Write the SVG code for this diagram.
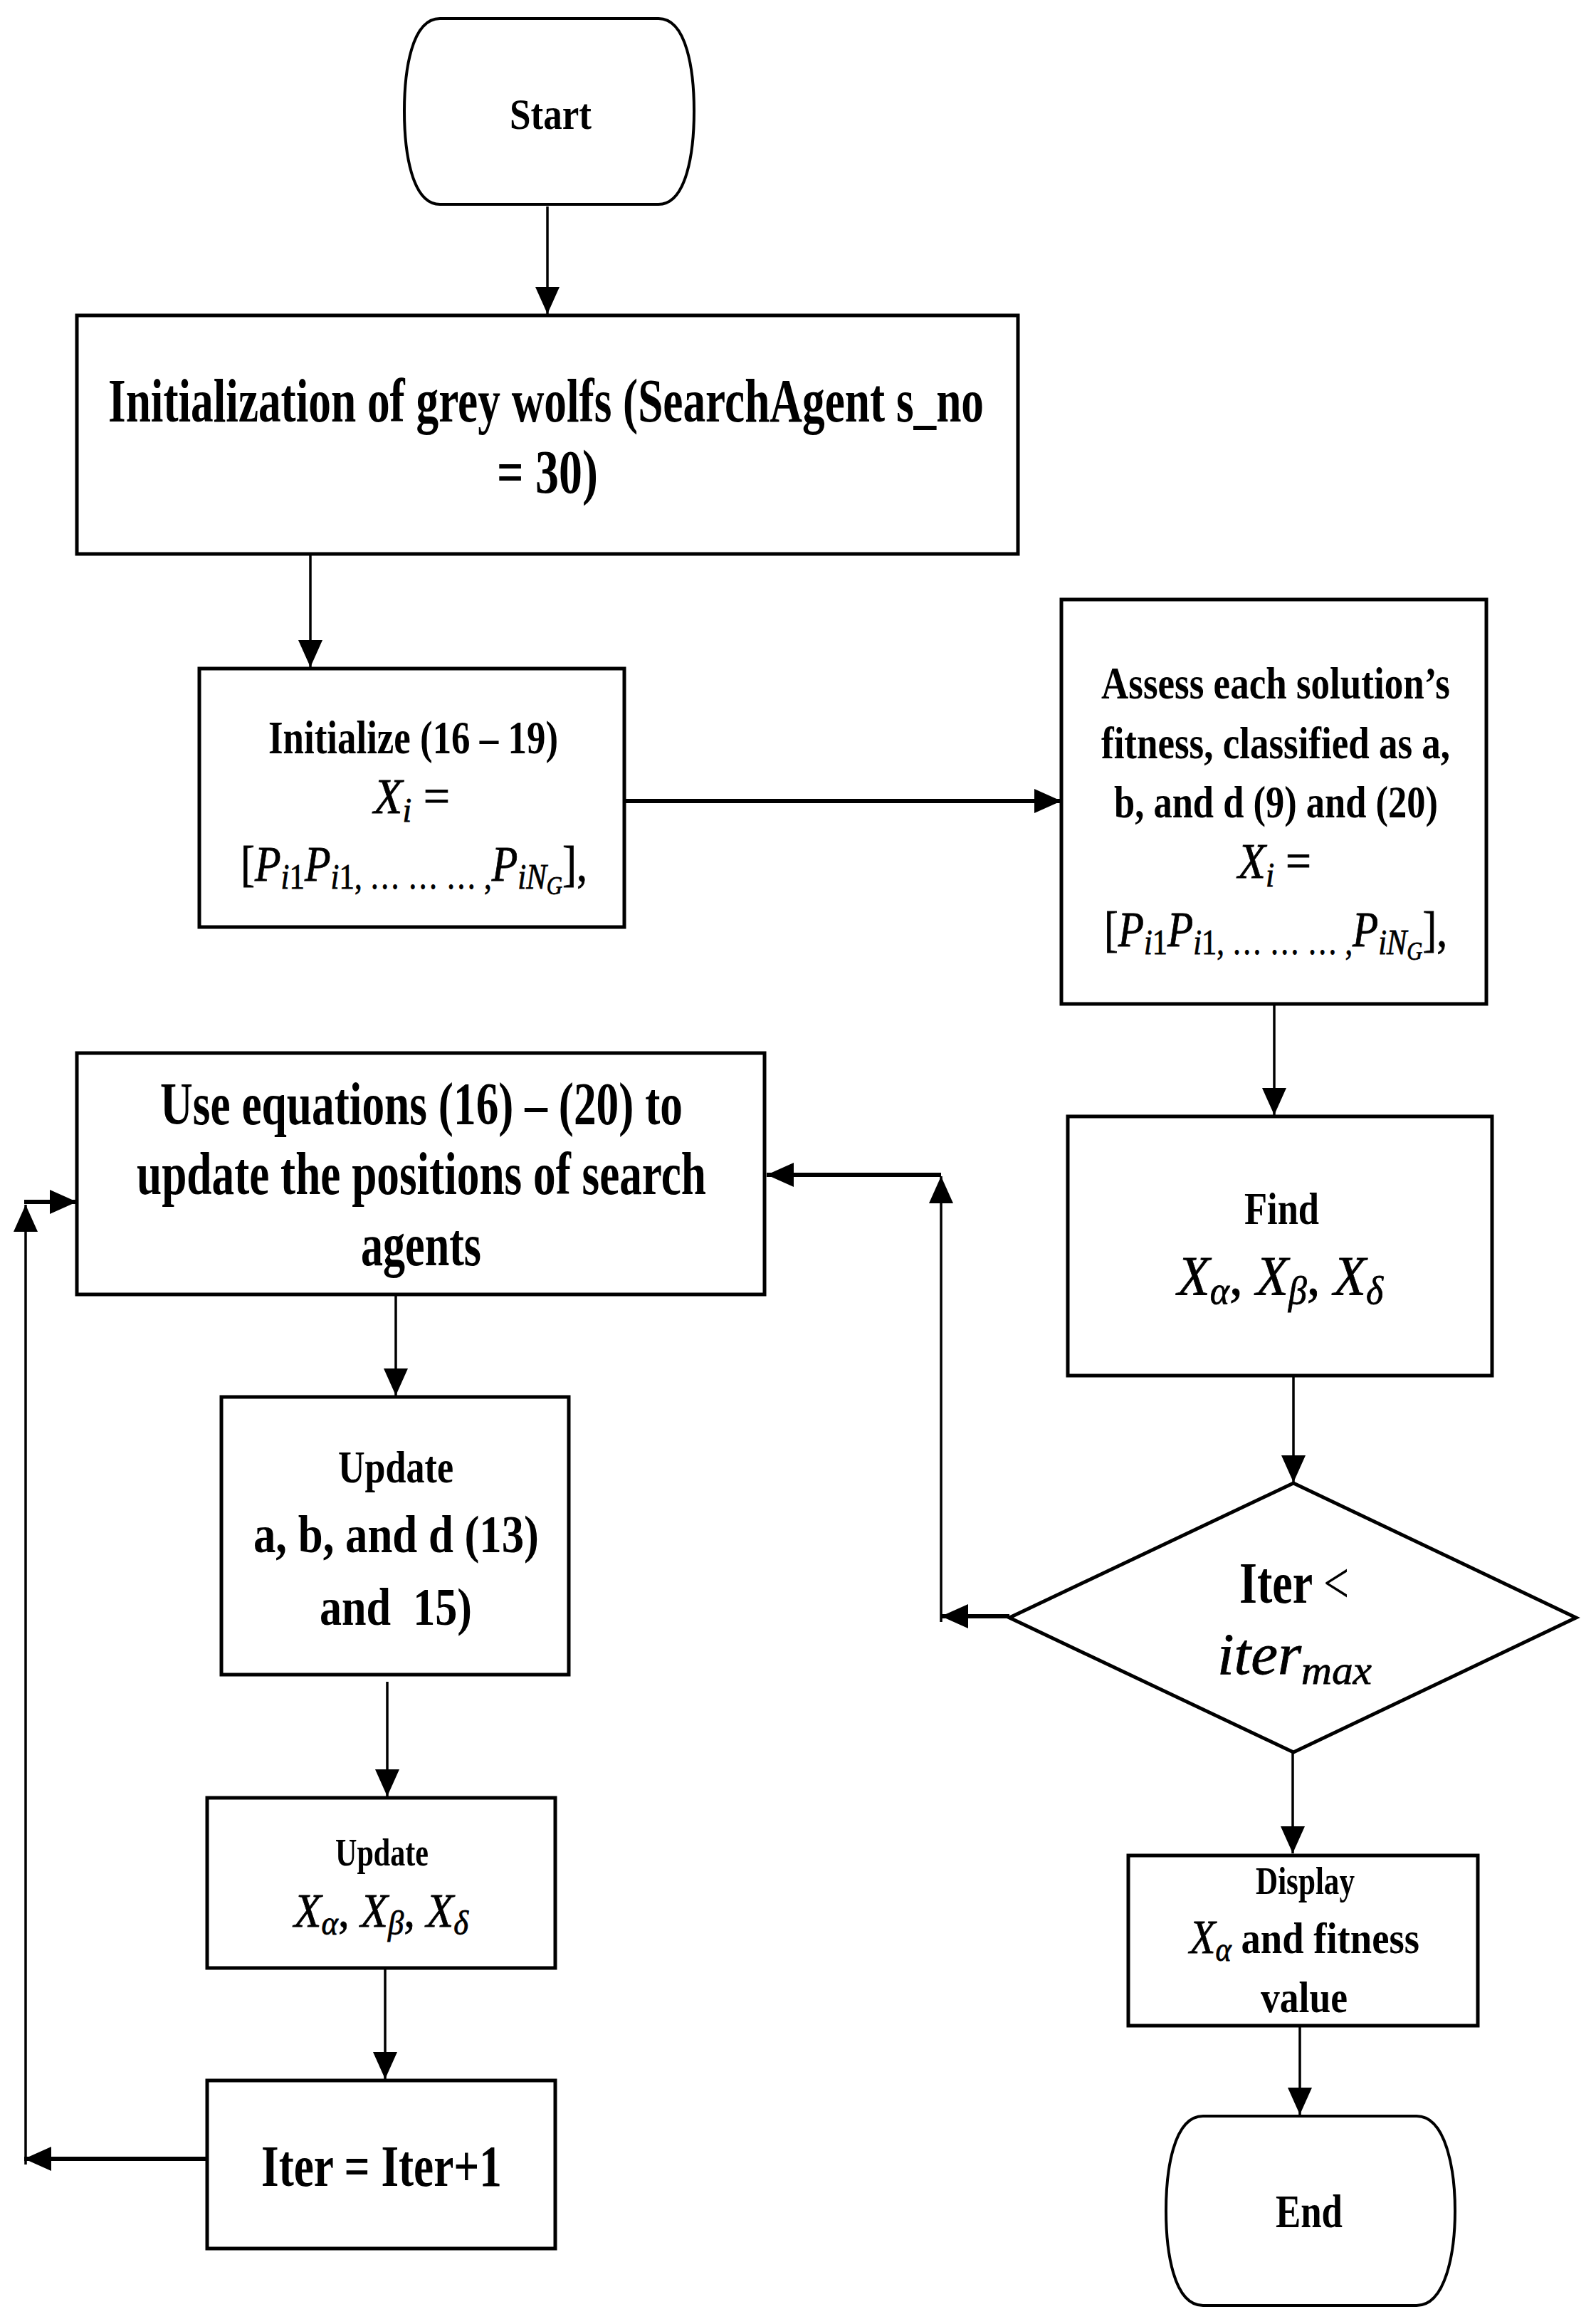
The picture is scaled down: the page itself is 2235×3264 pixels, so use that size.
<svg xmlns="http://www.w3.org/2000/svg" width="2235" height="3264" viewBox="0 0 2235 3264">
<style>
.box{fill:#fff;stroke:#000;stroke-width:5}
.term{fill:#fff;stroke:#000;stroke-width:4}
.t{font-family:"Liberation Serif","Times New Roman",serif;font-weight:bold;fill:#000}
.m{font-family:"Liberation Serif","Times New Roman",serif;font-style:italic;font-weight:normal;fill:#000;stroke:#000;stroke-width:0.8}
.up{font-style:normal}
.ln{stroke:#000;stroke-width:3.5;fill:none}
.th{stroke:#000;stroke-width:6;fill:none}
</style>
<defs>
<marker id="ah" markerUnits="userSpaceOnUse" markerWidth="40" markerHeight="34" refX="38" refY="17" orient="auto"><path d="M0,0 L38,17 L0,34 Z" fill="#000"/></marker>
</defs>
<rect width="2235" height="3264" fill="#fff"/>

<g id="connectors">
<line class="ln" x1="769" y1="290" x2="769" y2="441" marker-end="url(#ah)"/>
<line class="ln" x1="436" y1="778" x2="436" y2="937" marker-end="url(#ah)"/>
<line class="th" x1="877" y1="1125" x2="1491" y2="1125" marker-end="url(#ah)"/>
<line class="ln" x1="1790" y1="1410" x2="1790" y2="1566" marker-end="url(#ah)"/>
<line class="ln" x1="1817" y1="1932" x2="1817" y2="2082" marker-end="url(#ah)"/>
<line class="ln" x1="1816" y1="2461" x2="1816" y2="2603" marker-end="url(#ah)"/>
<line class="ln" x1="1826" y1="2845" x2="1826" y2="2970" marker-end="url(#ah)"/>
<line class="ln" x1="556" y1="1818" x2="556" y2="1960" marker-end="url(#ah)"/>
<line class="ln" x1="544" y1="2362" x2="544" y2="2523" marker-end="url(#ah)"/>
<line class="ln" x1="541" y1="2766" x2="541" y2="2920" marker-end="url(#ah)"/>
<line class="th" x1="1418" y1="2270" x2="1322" y2="2270" marker-end="url(#ah)"/>
<line class="ln" x1="1322" y1="2278" x2="1322" y2="1652" marker-end="url(#ah)"/>
<line class="th" x1="1322" y1="1650" x2="1077" y2="1650" marker-end="url(#ah)"/>
<line class="th" x1="291" y1="3032" x2="34" y2="3032" marker-end="url(#ah)"/>
<line class="ln" x1="36" y1="3040" x2="36" y2="1692" marker-end="url(#ah)"/>
<line class="th" x1="34" y1="1688" x2="108" y2="1688" marker-end="url(#ah)"/>
</g>

<g id="start">
<path class="term" d="M618,26 H925 C965,26 975,100 975,156 C975,212 965,287 925,287 H618 C578,287 568,212 568,156 C568,100 578,26 618,26 Z"/>
<text class="t" x="716" y="181" font-size="61" textLength="115" lengthAdjust="spacingAndGlyphs">Start</text>
</g>

<g id="init-wolves">
<rect class="box" x="108" y="443" width="1322" height="335"/>
<text class="t" x="152" y="592" font-size="86" textLength="1230" lengthAdjust="spacingAndGlyphs">Initialization of grey wolfs (SearchAgent s_no</text>
<text class="t" x="698" y="692" font-size="86" textLength="142" lengthAdjust="spacingAndGlyphs">= 30)</text>
</g>

<g id="initialize">
<rect class="box" x="280" y="939" width="597" height="363"/>
<text class="t" x="377" y="1058" font-size="66" textLength="407" lengthAdjust="spacingAndGlyphs">Initialize (16 – 19)</text>
<text class="m" x="525" y="1142" font-size="70" textLength="107" lengthAdjust="spacingAndGlyphs">X<tspan font-size="48" dy="12">i</tspan><tspan class="up" dy="-12"> =</tspan></text>
<text class="m" x="338" y="1237" font-size="70" textLength="487" lengthAdjust="spacingAndGlyphs"><tspan class="up">[</tspan>P<tspan font-size="50" dy="11">i<tspan class="up">1</tspan></tspan><tspan dy="-11">P</tspan><tspan font-size="50" dy="11">i<tspan class="up">1, … … … ,</tspan></tspan><tspan dy="-11">P</tspan><tspan font-size="50" dy="11">iN</tspan><tspan font-size="36" dy="8">G</tspan><tspan class="up" dy="-19">],</tspan></text>
</g>

<g id="assess">
<rect class="box" x="1491" y="842" width="597" height="568"/>
<text class="t" x="1547" y="981" font-size="64" textLength="490" lengthAdjust="spacingAndGlyphs">Assess each solution’s</text>
<text class="t" x="1547" y="1065" font-size="64" textLength="490" lengthAdjust="spacingAndGlyphs">fitness, classified as a,</text>
<text class="t" x="1565" y="1148" font-size="64" textLength="455" lengthAdjust="spacingAndGlyphs">b, and d (9) and (20)</text>
<text class="m" x="1739" y="1233" font-size="70" textLength="103" lengthAdjust="spacingAndGlyphs">X<tspan font-size="48" dy="12">i</tspan><tspan class="up" dy="-12"> =</tspan></text>
<text class="m" x="1551" y="1329" font-size="70" textLength="482" lengthAdjust="spacingAndGlyphs"><tspan class="up">[</tspan>P<tspan font-size="50" dy="11">i<tspan class="up">1</tspan></tspan><tspan dy="-11">P</tspan><tspan font-size="50" dy="11">i<tspan class="up">1, … … … ,</tspan></tspan><tspan dy="-11">P</tspan><tspan font-size="50" dy="11">iN</tspan><tspan font-size="36" dy="8">G</tspan><tspan class="up" dy="-19">],</tspan></text>
</g>

<g id="find">
<rect class="box" x="1500" y="1568" width="596" height="364"/>
<text class="t" x="1748" y="1719" font-size="64" textLength="105" lengthAdjust="spacingAndGlyphs">Find</text>
<text class="m" x="1654" y="1818" font-size="78" textLength="289" lengthAdjust="spacingAndGlyphs">X<tspan font-size="54" dy="13">α</tspan><tspan class="up" dy="-13">, </tspan>X<tspan font-size="54" dy="13">β</tspan><tspan class="up" dy="-13">, </tspan>X<tspan font-size="54" dy="13">δ</tspan></text>
</g>

<g id="decision">
<polygon class="box" points="1817,2083 2214,2272 1817,2461 1418,2272"/>
<text class="t" x="1741" y="2251" font-size="83" textLength="154" lengthAdjust="spacingAndGlyphs">Iter <tspan font-weight="normal">&lt;</tspan></text>
<text class="m" x="1710" y="2351" font-size="83" textLength="217" lengthAdjust="spacingAndGlyphs">iter<tspan font-size="58" dy="14">max</tspan></text>
</g>

<g id="display">
<rect class="box" x="1585" y="2606" width="491" height="239"/>
<text class="t" x="1764" y="2660" font-size="55" textLength="139" lengthAdjust="spacingAndGlyphs">Display</text>
<text class="t" x="1671" y="2743" font-size="62" textLength="323" lengthAdjust="spacingAndGlyphs"><tspan class="m" font-size="68">X</tspan><tspan class="m" font-size="48" dy="11">α</tspan><tspan dy="-11"> and fitness</tspan></text>
<text class="t" x="1771" y="2826" font-size="62" textLength="122" lengthAdjust="spacingAndGlyphs">value</text>
</g>

<g id="end">
<path class="term" d="M1690,2972 H1990 C2032,2972 2044,3050 2044,3105 C2044,3160 2032,3238 1990,3238 H1690 C1648,3238 1638,3160 1638,3105 C1638,3050 1648,2972 1690,2972 Z"/>
<text class="t" x="1792" y="3128" font-size="66" textLength="94" lengthAdjust="spacingAndGlyphs">End</text>
</g>

<g id="use-equations">
<rect class="box" x="108" y="1479" width="966" height="339"/>
<text class="t" x="225" y="1579" font-size="85" textLength="734" lengthAdjust="spacingAndGlyphs">Use equations (16) – (20) to</text>
<text class="t" x="192" y="1677" font-size="85" textLength="800" lengthAdjust="spacingAndGlyphs">update the positions of search</text>
<text class="t" x="507" y="1777" font-size="85" textLength="169" lengthAdjust="spacingAndGlyphs">agents</text>
</g>

<g id="update-abd">
<rect class="box" x="311" y="1962" width="488" height="390"/>
<text class="t" x="475" y="2082" font-size="64" textLength="162" lengthAdjust="spacingAndGlyphs">Update</text>
<text class="t" x="356" y="2180" font-size="75" textLength="401" lengthAdjust="spacingAndGlyphs">a, b, and d (13)</text>
<text class="t" x="449" y="2282" font-size="75" textLength="214" lengthAdjust="spacingAndGlyphs" style="white-space:pre">and  15)</text>
</g>

<g id="update-x">
<rect class="box" x="291" y="2525" width="489" height="239"/>
<text class="t" x="471" y="2620" font-size="55" textLength="131" lengthAdjust="spacingAndGlyphs">Update</text>
<text class="m" x="413" y="2706" font-size="68" textLength="245" lengthAdjust="spacingAndGlyphs">X<tspan font-size="48" dy="11">α</tspan><tspan class="up" dy="-11">, </tspan>X<tspan font-size="48" dy="11">β</tspan><tspan class="up" dy="-11">, </tspan>X<tspan font-size="48" dy="11">δ</tspan></text>
</g>

<g id="iter-inc">
<rect class="box" x="291" y="2922" width="489" height="236"/>
<text class="t" x="367" y="3070" font-size="83" textLength="338" lengthAdjust="spacingAndGlyphs">Iter = Iter+1</text>
</g>
</svg>
